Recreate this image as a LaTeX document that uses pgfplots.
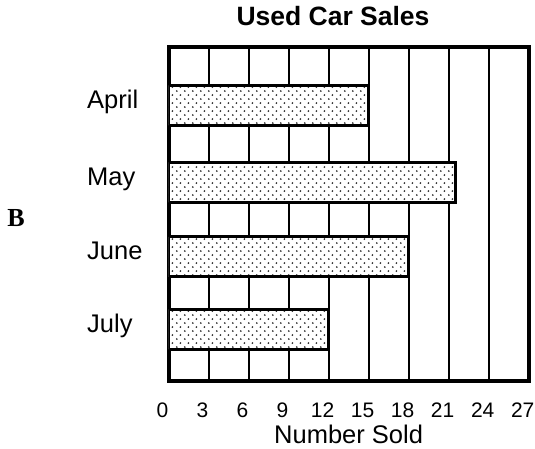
\documentclass[border=0pt]{standalone}
\usepackage{pgfplots}
\pgfplotsset{compat=1.18}
\usepackage{fontspec}
\setmainfont{Liberation Sans}
\newfontfamily\serifB{Liberation Serif}
\usetikzlibrary{patterns.meta}
\pgfdeclarepattern{
  name=mydots,
  type=uncolored,
  bottom left={\pgfpoint{0pt}{0pt}},
  top right={\pgfpoint{7.6pt}{8.4pt}},
  tile size={\pgfpoint{7.6pt}{8.4pt}},
  code={
    \pgfpathcircle{\pgfpoint{1.9pt}{2.1pt}}{1.0pt}
    \pgfpathcircle{\pgfpoint{5.7pt}{6.3pt}}{1.0pt}
    \pgfusepath{fill}
  }
}
\begin{document}
\begin{tikzpicture}
\useasboundingbox (0,0) rectangle (535pt,449pt);
\begin{axis}[
  at={(168.5pt,68pt)}, anchor=south west,
  scale only axis,
  width=360.2pt, height=334pt,
  xmin=0, xmax=27, ymin=0, ymax=334,
  enlargelimits=false,
  xtick={0,3,...,27},
  ytick={51.5,124,198.5,275.5},
  yticklabels={July,June,May,April},
  major tick length=0pt,
  xmajorgrids,
  major grid style={black, line width=2pt},
  axis line style={black, line width=4pt},
  /pgf/number format/assume math mode=true,
  xticklabel style={font=\fontsize{21}{25}\selectfont, anchor=base, yshift=-37pt, xshift=-6pt, inner sep=0pt},
  yticklabel style={font=\fontsize{25.5}{30}\selectfont, anchor=base west, xshift=-81.5pt, yshift=-3pt, inner sep=0pt},
  title={Used Car Sales},
  title style={font=\fontsize{26.5}{31}\selectfont\bfseries, at={(axis description cs:0.5,1)}, anchor=base, yshift=15pt, xshift=-15.6pt, inner sep=0pt},
  xlabel={Number Sold},
  xlabel style={font=\fontsize{25.5}{30}\selectfont, at={(axis description cs:0.5,0)}, anchor=base, yshift=-62.5pt, inner sep=0pt},
]
\addplot[xbar, bar width=40pt, fill=white, draw=black, line width=3pt,
  postaction={pattern=mydots, pattern color=black!85}]
  coordinates {(15,275.5) (21.5,198.5) (18,124) (12,51.5)};
\end{axis}
\node[font=\serifB\bfseries\fontsize{26}{30}\selectfont, inner sep=0pt, anchor=base] at (16pt,222pt) {B};
\end{tikzpicture}
\end{document}
